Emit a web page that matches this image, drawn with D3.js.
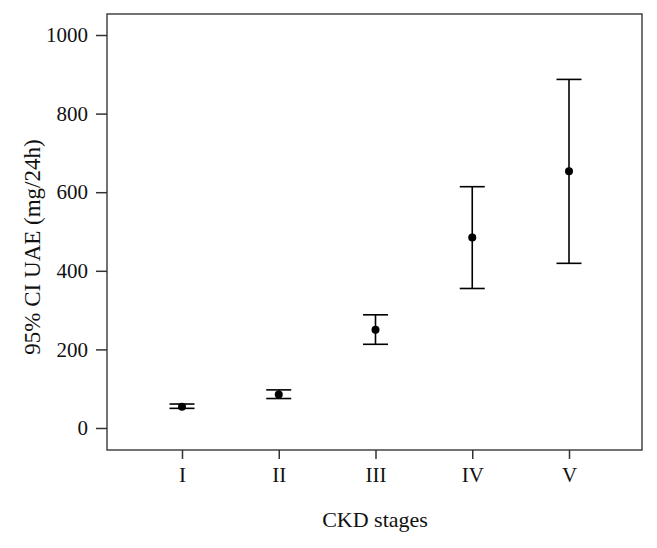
<!DOCTYPE html>
<html>
<head>
<meta charset="utf-8">
<script src="https://cdn.jsdelivr.net/npm/d3@7"></script>
<style>
    body { margin: 0; background: #fff; }
    text { font-family: "Liberation Serif", "Times New Roman", serif; fill: #111; }
</style>
</head>
<body>
<svg width="657" height="548"></svg>
<script>
// CKD stages, mean UAE with 95% CI (mg/24h)
var stages = ["I", "II", "III", "IV", "V"];
var means = [54, 85, 250, 485, 653];
var lower = [50, 75, 213, 355, 419];
var upper = [61, 97, 288, 614, 887];
var yTicks = [0, 200, 400, 600, 800, 1000];

var svg = d3.select("svg"),
    margin = { top: 14, right: 15, bottom: 98, left: 107 },
    width = +svg.attr("width") - margin.left - margin.right,
    height = +svg.attr("height") - margin.top - margin.bottom;

var x = d3.scalePoint().domain(stages).range([75, 462]),
    y = d3.scaleLinear().domain([0, 1000]).range([414, 21]);

var g = svg.append("g")
    .attr("transform", "translate(" + margin.left + "," + margin.top + ")");

var d = stages.map(function (s, i) {
    return { stage: s, mean: means[i], lo: lower[i], hi: upper[i] };
});

// frame
g.append("rect")
    .attr("x", 0)
    .attr("y", 0)
    .attr("width", width)
    .attr("height", height)
    .attr("fill", "none")
    .attr("stroke", "#444")
    .attr("stroke-width", 1.5);

var yAxis = g.append("g")
    .call(d3.axisLeft(y).tickValues(yTicks).tickFormat(d3.format("d"))
        .tickSize(11).tickPadding(8).tickSizeOuter(0));
yAxis.select(".domain").remove();

var xAxis = g.append("g")
    .attr("transform", "translate(0," + height + ")")
    .call(d3.axisBottom(x).tickSize(9).tickPadding(8).tickSizeOuter(0));
xAxis.select(".domain").remove();

svg.selectAll(".tick line").attr("stroke", "#333").attr("stroke-width", 1.5);
svg.selectAll(".tick text")
    .attr("font-family", "Liberation Serif, serif")
    .attr("font-size", 21)
    .attr("fill", "#111");

// error bars
var cap = 12.5;
var bars = g.selectAll(".err")
    .data(d)
    .enter().append("g")
    .attr("class", "err")
    .attr("stroke", "#000")
    .attr("stroke-width", 1.6);

bars.append("line")
    .attr("x1", function (d) { return x(d.stage); })
    .attr("x2", function (d) { return x(d.stage); })
    .attr("y1", function (d) { return y(d.lo); })
    .attr("y2", function (d) { return y(d.hi); });

bars.append("line")
    .attr("x1", function (d) { return x(d.stage) - cap; })
    .attr("x2", function (d) { return x(d.stage) + cap; })
    .attr("y1", function (d) { return y(d.lo); })
    .attr("y2", function (d) { return y(d.lo); });

bars.append("line")
    .attr("x1", function (d) { return x(d.stage) - cap; })
    .attr("x2", function (d) { return x(d.stage) + cap; })
    .attr("y1", function (d) { return y(d.hi); })
    .attr("y2", function (d) { return y(d.hi); });

g.selectAll(".dot")
    .data(d)
    .enter().append("circle")
    .attr("class", "dot")
    .attr("cx", function (d) { return x(d.stage); })
    .attr("cy", function (d) { return y(d.mean); })
    .attr("r", 4)
    .attr("fill", "#000");

// axis titles
svg.append("text")
    .attr("x", 375)
    .attr("y", 527)
    .attr("text-anchor", "middle")
    .attr("font-size", 22)
    .text("CKD stages");

svg.append("text")
    .attr("transform", "translate(40,247) rotate(-90)")
    .attr("text-anchor", "middle")
    .attr("font-size", 23)
    .text("95% CI UAE (mg/24h)");
</script>
</body>
</html>
